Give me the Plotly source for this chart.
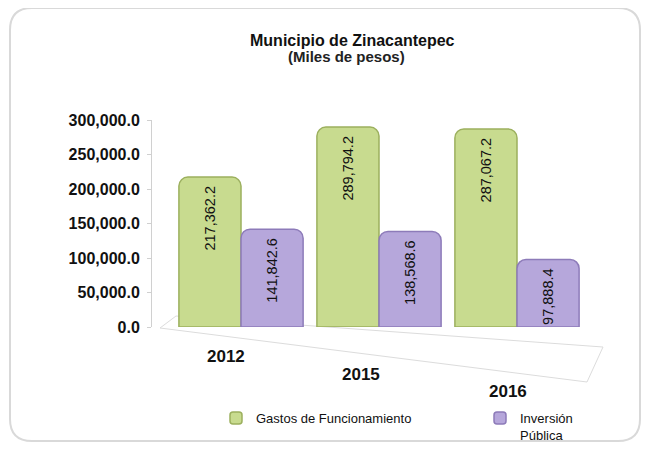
import plotly.graph_objects as go

categories = ["2012", "2015", "2016"]
gastos = [217362.2, 289794.2, 287067.2]
inversion = [141842.6, 138568.6, 97888.4]
series_names = ["Gastos de Funcionamiento", "Inversión<br>Pública"]
y_ticks = [0, 50000, 100000, 150000, 200000, 250000, 300000]

W, H = 660, 453
OFF = 8  # page offset of the figure inside the browser window
# plot area in window pixels
PX0, PX1, PY0, PY1 = 152, 590, 120, 327
ML, MR = PX0 - OFF, W - (PX1 - OFF)
MT, MB = PY0 - OFF, H - (PY1 - OFF)
PW = PX1 - PX0
PH = PY1 - PY0

def px2x(px):
    return (px - PX0) / PW

def px2y(py):
    return (PY1 - py) / PH

FONT = "Liberation Sans, Arial, sans-serif"

fig = go.Figure()
fig.add_trace(go.Bar(
    x=categories, y=gastos, name=series_names[0], legend="legend",
    marker=dict(color="#c8db8f", line=dict(color="#9cb05e", width=1.5), cornerradius=9),
    texttemplate="%{y:,.1f}", textposition="inside", insidetextanchor="end",
    textangle=-90, textfont=dict(family=FONT, size=14.5, color="#111111"),
))
fig.add_trace(go.Bar(
    x=categories, y=inversion, name=series_names[1], legend="legend2",
    marker=dict(color="#b6a7db", line=dict(color="#8d7bb9", width=1.5), cornerradius=9),
    texttemplate="%{y:,.1f}", textposition="inside", insidetextanchor="end",
    textangle=-90, textfont=dict(family=FONT, size=14.5, color="#111111"),
))

def add_text(txt, cx, cy, size, color="#111111"):
    fig.add_annotation(x=px2x(cx), y=px2y(cy), xref="paper", yref="paper",
                       xanchor="center", yanchor="middle",
                       text=txt, showarrow=False,
                       font=dict(family=FONT, size=size, color=color))

# staggered category labels (perspective look of the original)
label_px = [(226, 356), (361, 374), (508, 391)]
for cat, (lx, ly) in zip(categories, label_px):
    add_text("<b>%s</b>" % cat, lx, ly, 17)

# title
add_text("<b>Municipio de Zinacantepec</b>", 352, 40, 16)
add_text("<b>(Miles de pesos)</b>", 346, 57, 15, "#222222")

# rounded frame
x0, x1, y0, y1, r = px2x(10), px2x(640), px2y(8), px2y(441), 22
rx, ry = r / PW, r / PH
path = (f"M {x0+rx},{y0} L {x1-rx},{y0} Q {x1},{y0} {x1},{y0-ry} "
        f"L {x1},{y1+ry} Q {x1},{y1} {x1-rx},{y1} L {x0+rx},{y1} "
        f"Q {x0},{y1} {x0},{y1+ry} L {x0},{y0-ry} Q {x0},{y0} {x0+rx},{y0} Z")
fig.add_shape(type="path", path=path, xref="paper", yref="paper",
              line=dict(color="#d9d9d9", width=2), layer="below")

# faint perspective floor
floor = [(160, 328), (587, 382), (603, 347), (176, 316)]
fpath = "M " + " L ".join(f"{px2x(a)},{px2y(b)}" for a, b in floor) + " Z"
fig.add_shape(type="path", path=fpath, xref="paper", yref="paper",
              line=dict(color="#dcdcdc", width=1), layer="below")

fig.update_layout(
    width=W, height=H,
    margin=dict(l=ML, r=MR, t=MT, b=MB, autoexpand=False),
    paper_bgcolor="white", plot_bgcolor="white",
    barmode="group", bargap=0.1, bargroupgap=0.0,
    font=dict(family=FONT, color="#111111"),
    showlegend=True,
    legend=dict(x=px2x(216), y=px2y(403), xanchor="left", yanchor="top",
                font=dict(family=FONT, size=13, color="#111111"),
                itemwidth=30, bgcolor="rgba(0,0,0,0)"),
    legend2=dict(x=px2x(480), y=px2y(403), xanchor="left", yanchor="top",
                 font=dict(family=FONT, size=13, color="#111111"), valign="top",
                 itemwidth=30, bgcolor="rgba(0,0,0,0)"),
    xaxis=dict(range=[-0.645, 2.529], showticklabels=False, showline=False,
               showgrid=False, zeroline=False, ticks=""),
    yaxis=dict(range=[0, 300000], tickvals=y_ticks, tickformat=",.1f",
               showgrid=False, zeroline=False, showline=True, linecolor="#d0d0d0",
               linewidth=1, ticks="outside", ticklen=4, tickcolor="#d0d0d0",
               tickfont=dict(family=FONT, size=16, color="#111111", weight="bold"),
               ticklabelstandoff=4),
)

fig.write_html("out.html")
